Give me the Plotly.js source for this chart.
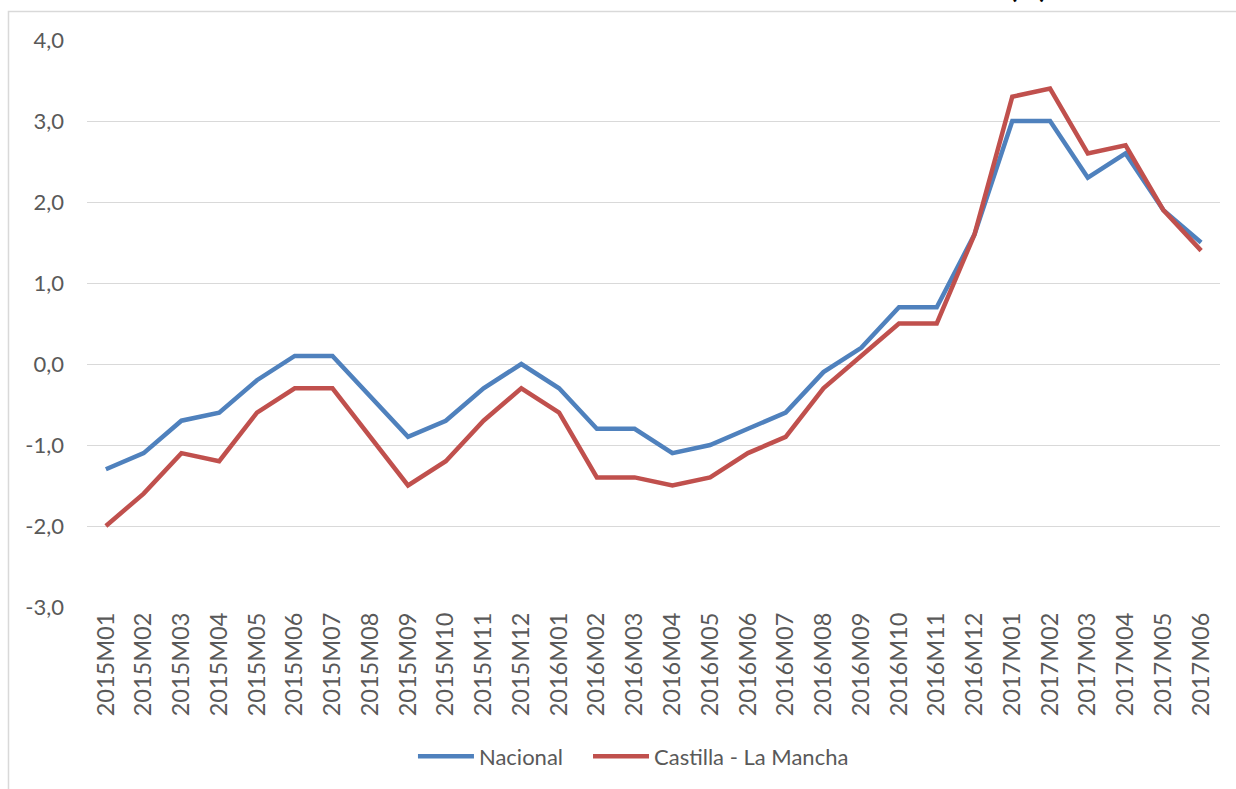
<!DOCTYPE html>
<html>
<head>
<meta charset="utf-8">
<script src="https://cdn.plot.ly/plotly-3.0.1.min.js"></script>
<style>
html,body{margin:0;padding:0;background:#fff;}
#chart{width:1236px;height:789px;}
</style>
</head>
<body>
<div id="chart"></div>
<script>
const categories = ["2015M01","2015M02","2015M03","2015M04","2015M05","2015M06","2015M07","2015M08","2015M09","2015M10","2015M11","2015M12",
"2016M01","2016M02","2016M03","2016M04","2016M05","2016M06","2016M07","2016M08","2016M09","2016M10","2016M11","2016M12",
"2017M01","2017M02","2017M03","2017M04","2017M05","2017M06"];
const nacional = [-1.3,-1.1,-0.7,-0.6,-0.2,0.1,0.1,-0.4,-0.9,-0.7,-0.3,0.0,
-0.3,-0.8,-0.8,-1.1,-1.0,-0.8,-0.6,-0.1,0.2,0.7,0.7,1.6,
3.0,3.0,2.3,2.6,1.9,1.5];
const castilla = [-2.0,-1.6,-1.1,-1.2,-0.6,-0.3,-0.3,-0.9,-1.5,-1.2,-0.7,-0.3,
-0.6,-1.4,-1.4,-1.5,-1.4,-1.1,-0.9,-0.3,0.1,0.5,0.5,1.6,
3.3,3.4,2.6,2.7,1.9,1.4];
const seriesNames = ["Nacional","Castilla - La Mancha"];
const titleText = "Evolución de la tasa de variación anual del IPC. Índice General (%)";
const yTicks = [-3,-2,-1,0,1,2,3,4];
const yTickText = yTicks.map(v => v.toFixed(1).replace(".", ","));

const font = "Lato, 'Liberation Sans', sans-serif";
const traces = [
  {x: categories, y: nacional, name: seriesNames[0], type: "scatter", mode: "lines",
   line: {color: "#4F81BD", width: 4.5}, legend: "legend"},
  {x: categories, y: castilla, name: seriesNames[1], type: "scatter", mode: "lines",
   line: {color: "#C0504D", width: 4.5}, legend: "legend2"}
];
const legendBase = {orientation: "h", xanchor: "left", y: -0.2636, yanchor: "middle",
  font: {size: 22, color: "#595959"}, itemwidth: 56, bgcolor: "rgba(0,0,0,0)"};
const layout = {
  width: 1236, height: 789,
  margin: {l: 87, r: 16, t: 40, b: 180},
  paper_bgcolor: "#fff", plot_bgcolor: "#fff",
  separators: ", ",
  font: {family: font, color: "#595959", size: 21},
  xaxis: {type: "category", tickangle: -90, showgrid: false, zeroline: false, showline: false,
          ticks: "", tickfont: {size: 23.5, color: "#595959"}, range: [-0.5, categories.length - 0.5],
          fixedrange: true},
  yaxis: {range: [-3, 4], tickvals: yTicks, ticktext: yTickText, showgrid: true, gridcolor: "#d9d9d9",
          gridwidth: 1, zeroline: false, showline: false, ticks: "", ticklabelstandoff: 22,
          tickfont: {size: 22, color: "#595959"}, fixedrange: true},
  showlegend: true,
  legend: Object.assign({}, legendBase, {x: 0.2877}),
  legend2: Object.assign({}, legendBase, {x: 0.4422}),
  annotations: [{text: "<b>" + titleText + "</b>", xref: "paper", yref: "paper", x: 0.503, y: 1.0595,
                 xanchor: "center", yanchor: "bottom", showarrow: false,
                 font: {family: font, size: 27, color: "#000"}}],
  shapes: [{type: "rect", xref: "paper", yref: "paper", x0: -0.0693, x1: 2, y0: -0.5, y1: 1.0501,
            line: {color: "#d9d9d9", width: 1.5}, fillcolor: "rgba(0,0,0,0)", layer: "below"}]
};
Plotly.newPlot("chart", traces, layout, {displayModeBar: false, staticPlot: true});
</script>
</body>
</html>
